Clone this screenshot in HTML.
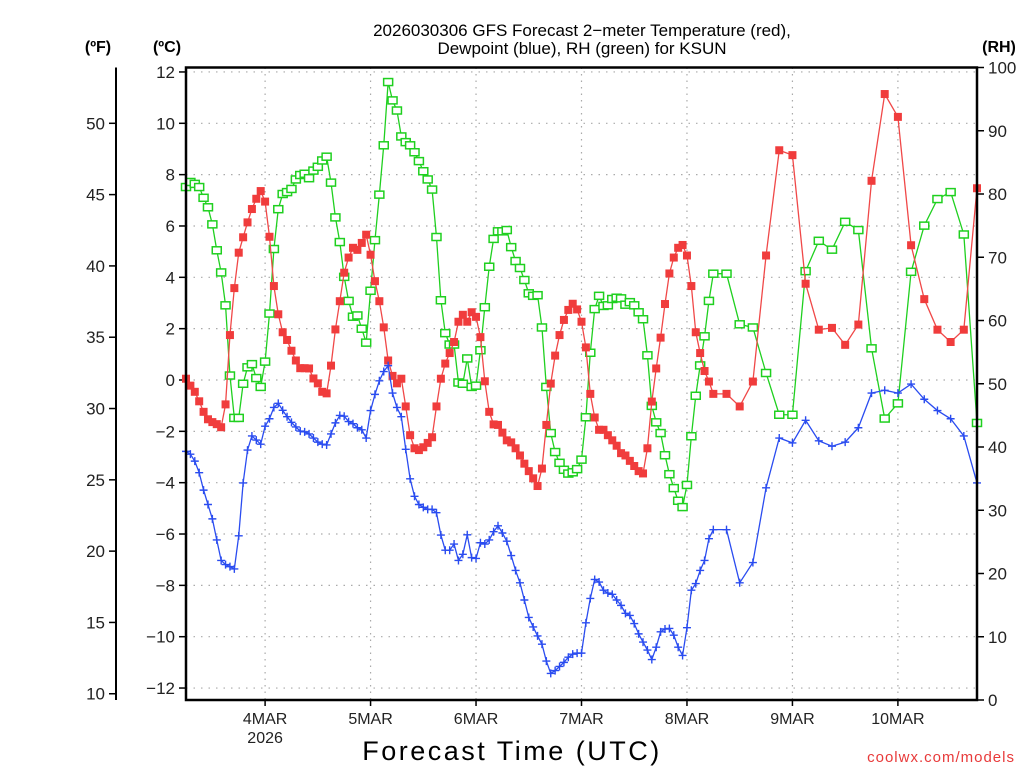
<!DOCTYPE html>
<html><head><meta charset="utf-8"><style>
body{margin:0;background:#fff;}
svg{display:block;font-family:"Liberation Sans",sans-serif;}
</style></head><body>
<svg id="chart" width="1024" height="768" viewBox="0 0 1024 768">
<text x="582" y="36" font-size="17" text-anchor="middle" fill="#000">2026030306 GFS Forecast 2−meter Temperature (red),</text>
<text x="582" y="54" font-size="17" text-anchor="middle" fill="#000">Dewpoint (blue), RH (green) for KSUN</text>
<text x="98" y="52" font-size="16" font-weight="bold" text-anchor="middle">(ºF)</text>
<text x="167" y="52" font-size="16" font-weight="bold" text-anchor="middle">(ºC)</text>
<text x="999" y="52" font-size="16" font-weight="bold" text-anchor="middle">(RH)</text>
<g id="grid"></g>
<g id="axes"></g>
<g id="series"></g>
<rect x="186" y="67.5" width="791" height="632.5" fill="none" stroke="#000" stroke-width="2.5"/>
<text x="512" y="760" font-size="27" text-anchor="middle" letter-spacing="2.5">Forecast Time (UTC)</text>
<text x="1015" y="762" font-size="15" text-anchor="end" fill="#e83a3a" letter-spacing="1">coolwx.com/models</text>
</svg>
<script>
const hours=[];for(let h=0;h<=120;h++)hours.push(h);for(let h=123;h<=180;h+=3)hours.push(h);
const tempC=[0.05,-0.22,-0.46,-0.83,-1.24,-1.53,-1.64,-1.72,-1.84,-0.95,1.75,3.58,4.96,5.56,6.14,6.66,7.06,7.36,6.95,5.58,3.66,2.56,1.86,1.56,1.14,0.76,0.46,0.46,0.45,0.06,-0.13,-0.46,-0.52,0.56,1.97,3.07,4.18,4.77,5.15,5.07,5.34,5.66,
4.88,3.85,3.07,2.05,0.76,0.16,-0.13,0.05,-1.03,-2.15,-2.66,-2.73,-2.62,-2.45,-2.23,-1.03,0.05,0.64,1.05,1.48,2.27,2.54,2.27,2.64,2.46,1.67,-0.05,-1.24,-1.73,-1.75,-2.05,-2.35,-2.43,-2.66,-2.94,-3.26,-3.55,-3.83,-4.13,-3.45,-1.75,-0.14,0.95,1.75,2.34,2.73,2.97,2.75,
2.27,1.27,-0.54,-1.46,-1.94,-1.94,-2.15,-2.35,-2.56,-2.85,-2.94,-3.15,-3.35,-3.55,-3.64,-2.66,-0.84,0.45,1.65,2.96,4.15,4.77,5.15,5.26,4.85,3.66,1.86,1.05,0.35,-0.06,-0.54,
-0.54,-1.03,-0.06,4.85,8.95,8.76,3.75,1.96,2.03,1.37,2.16,7.76,11.14,10.25,5.25,3.15,1.96,1.48,1.96,7.47];
const dewC=[-2.78,-2.89,-3.16,-3.61,-4.29,-4.85,-5.41,-6.23,-7.03,-7.19,-7.27,-7.36,-6.07,-4.01,-2.73,-2.18,-2.34,-2.50,-1.80,-1.51,-1.07,-0.91,-1.18,-1.43,-1.65,-1.83,-1.99,-2.02,-2.10,-2.26,-2.42,-2.50,-2.53,-2.10,-1.67,-1.38,-1.41,-1.62,-1.70,-1.86,-1.94,-2.26,
-1.19,-0.56,-0.03,0.33,0.56,-0.51,-1.07,-1.43,-2.70,-3.85,-4.53,-4.85,-4.96,-5.04,-5.04,-5.17,-6.04,-6.63,-6.63,-6.39,-7.03,-6.79,-6.03,-6.92,-6.95,-6.34,-6.39,-6.23,-5.91,-5.68,-5.96,-6.28,-6.84,-7.42,-7.90,-8.57,-9.25,-9.62,-9.97,-10.29,-10.95,-11.43,-11.32,-11.16,-11.00,-10.80,-10.68,-10.64,
-10.64,-9.46,-8.51,-7.77,-7.87,-8.19,-8.30,-8.35,-8.57,-8.78,-9.09,-9.17,-9.49,-9.89,-10.21,-10.52,-10.89,-10.41,-9.81,-9.70,-9.68,-9.94,-10.41,-10.73,-9.65,-8.19,-7.93,-7.42,-7.03,-6.18,-5.83,
-5.83,-7.90,-7.11,-4.20,-2.26,-2.45,-1.57,-2.37,-2.58,-2.42,-1.86,-0.51,-0.40,-0.51,-0.16,-0.75,-1.19,-1.51,-2.18,-4.01];
const rh=[81.1,81.9,81.6,81.1,79.4,77.9,75.2,71.1,67.6,62.4,51.3,44.6,44.6,50.0,52.6,53.1,50.9,49.5,53.5,61.1,71.3,77.6,80.0,80.3,80.8,82.3,83.0,83.2,82.5,83.7,84.3,85.3,85.9,81.8,76.3,72.4,66.9,63.1,60.6,60.8,58.7,56.5,
64.7,72.7,79.9,87.7,97.7,94.8,93.2,89.1,88.2,87.7,86.6,85.2,83.6,82.3,80.7,73.2,63.2,58.0,56.2,56.2,50.2,50.0,54.0,49.5,49.7,55.3,62.1,68.5,72.9,74.1,74.1,74.3,71.6,69.4,68.3,66.4,64.3,63.9,64.0,58.9,49.5,42.2,39.2,37.5,36.4,35.8,36.0,36.5,
38.0,44.7,54.9,61.8,63.9,62.3,62.4,63.4,63.6,63.5,62.5,62.9,62.4,61.3,60.2,54.5,46.5,43.9,42.2,38.7,35.7,33.5,31.5,30.5,34.0,41.7,48.1,52.9,57.5,63.1,67.4,
67.4,59.4,58.9,51.7,45.1,45.1,67.8,72.6,71.2,75.6,74.3,55.6,44.5,46.9,67.7,75.0,79.2,80.3,73.6,43.8];
const dayLabels=["4MAR","5MAR","6MAR","7MAR","8MAR","9MAR","10MAR"];
const dayHours=[18,42,66,90,114,138,162];
const cTicks=[-12,-10,-8,-6,-4,-2,0,2,4,6,8,10,12];
const fTicks=[10,15,20,25,30,35,40,45,50];
const rhTicks=[0,10,20,30,40,50,60,70,80,90,100];

const NS="http://www.w3.org/2000/svg";
const L=186,R=977,T=67.5,B=700;
const xS=h=>L+h*(R-L)/180;
const yC=c=>380-c*25.67;
const yF=f=>yC((f-32)*5/9);
const yRH=v=>B-v*(B-T)/100;
function mk(tag,attrs,parent){const e=document.createElementNS(NS,tag);for(const k in attrs)e.setAttribute(k,attrs[k]);parent.appendChild(e);return e;}
const grid=document.getElementById('grid'),axes=document.getElementById('axes'),ser=document.getElementById('series');
cTicks.forEach(c=>{
 const y=yC(c);
 const g=mk('line',{x1:L,x2:R,y1:y,y2:y,stroke:'#aaa','stroke-width':1.2,'stroke-dasharray':'1.5 6'},grid);
 
 
 const t=mk('line',{x1:L-7,x2:L,y1:y,y2:y,stroke:'#000','stroke-width':1.5},axes);
 
 
 const tx=mk('text',{x:L-11,y:y+6,'font-size':17,'text-anchor':'end',fill:'#222'},axes);
 tx.textContent=String(c).replace('-','−');
 
 
});
const fl=mk('line',{x1:116,x2:116,y1:T,y2:B,stroke:'#000','stroke-width':2},axes);


fTicks.forEach(f=>{
 const y=yF(f);
 const t=mk('line',{x1:109,x2:116,y1:y,y2:y,stroke:'#000','stroke-width':1.5},axes);
 
 
 const tx=mk('text',{x:105,y:y+6,'font-size':17,'text-anchor':'end',fill:'#222'},axes);
 tx.textContent=f;
 
 
});
rhTicks.forEach(v=>{
 const y=yRH(v);
 const t=mk('line',{x1:R,x2:R+7,y1:y,y2:y,stroke:'#000','stroke-width':1.5},axes);
 
 
 const tx=mk('text',{x:988,y:y+6,'font-size':17,'text-anchor':'start',fill:'#222'},axes);
 tx.textContent=v;
 
 
});
dayHours.forEach((h,i)=>{
 const x=xS(h);
 const g=mk('line',{x1:x,x2:x,y1:T,y2:B,stroke:'#aaa','stroke-width':1.2,'stroke-dasharray':'1.5 5'},grid);
 
 
 const t=mk('line',{x1:x,x2:x,y1:B,y2:B+6,stroke:'#000','stroke-width':1.5},axes);
 
 
 const tx=mk('text',{x:x,y:724,'font-size':16,'text-anchor':'middle',fill:'#222'},axes);
 tx.textContent=dayLabels[i];
 
 
});
const yr=mk('text',{x:xS(18),y:743,'font-size':16,'text-anchor':'middle',fill:'#222'},axes);
yr.textContent="2026";



function series(vals,yf,color,kind,name){
 const g=mk('g',{},ser);
 
 
 const pts=vals.map((v,i)=>[xS(hours[i]),yf(v)]);
 const pl=mk('polyline',{points:pts.map(p=>p.join(',')).join(' '),fill:'none',stroke:color,'stroke-width':1.3},g);
 
 
 pts.forEach(p=>{
  let m;
  if(kind==='fill') m=mk('rect',{x:p[0]-4,y:p[1]-4,width:8,height:8,fill:'#f03c3c'},g);
  else if(kind==='hollow') m=mk('rect',{x:p[0]-4.5,y:p[1]-3.5,width:9,height:7,fill:'#fff',stroke:'#1fd01f','stroke-width':1.5},g);
  else m=mk('path',{d:`M${p[0]-4},${p[1]}h8M${p[0]},${p[1]-4}v8`,stroke:color,'stroke-width':1.4},g);
  
  
 });
}
series(rh,yRH,'#1fd01f','hollow','rh-series');
series(tempC,yC,'#f04848','fill','temperature-series');
series(dewC,yC,'#2a4cf0','plus','dewpoint-series');
</script>
</body></html>
